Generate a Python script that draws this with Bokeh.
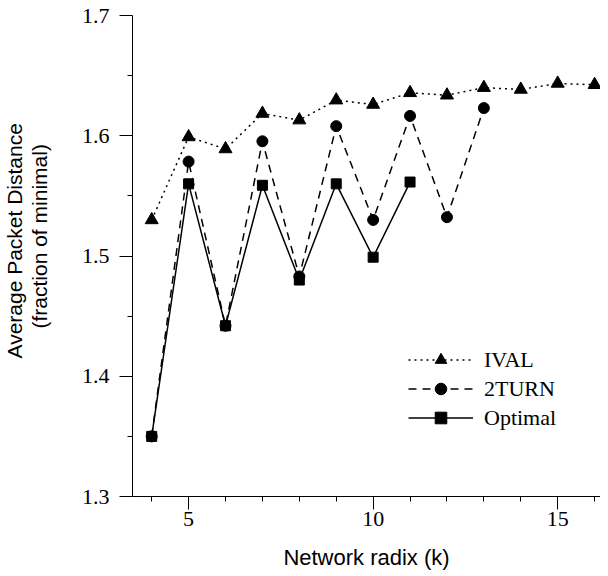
from bokeh.plotting import figure
from bokeh.models import Range1d, FixedTicker, Title, Legend, LegendItem
from bokeh.embed import file_html
from bokeh.resources import INLINE

# ---- data ----
ival_k = [4, 5, 6, 7, 8, 9, 10, 11, 12, 13, 14, 15, 16]
ival = [1.530, 1.599, 1.589, 1.6185, 1.613, 1.6296, 1.626, 1.6357, 1.6337, 1.640, 1.6385, 1.6435, 1.6424]

turn_k = [4, 5, 6, 7, 8, 9, 10, 11, 12, 13]
turn = [1.350, 1.5785, 1.442, 1.5954, 1.483, 1.608, 1.530, 1.6165, 1.5323, 1.623]

opt_k = [4, 5, 6, 7, 8, 9, 10, 11]
opt = [1.350, 1.560, 1.442, 1.5588, 1.480, 1.560, 1.499, 1.5615]

x_major = [5, 10, 15]
x_minor = [4, 5, 6, 7, 8, 9, 10, 11, 12, 13, 14, 15, 16]
y_major = [1.3, 1.4, 1.5, 1.6, 1.7]
y_minor = [1.35, 1.45, 1.55, 1.65]

x_label = "Network radix (k)"
y_label_1 = "Average Packet Distance"
y_label_2 = "(fraction of minimal)"

SERIF = "Liberation Serif"
SANS = "Liberation Sans"

p = figure(frame_width=468, frame_height=481,
           min_border_left=132, min_border_right=0, min_border_top=15, min_border_bottom=72,
           x_range=Range1d(3.48, 16.16), y_range=Range1d(1.3, 1.7),
           output_backend="svg", toolbar_location=None)
p.outline_line_color = None
p.xgrid.visible = False
p.ygrid.visible = False
p.background_fill_color = "white"

p.xaxis.ticker = FixedTicker(ticks=x_major, minor_ticks=x_minor)
p.yaxis.ticker = FixedTicker(ticks=y_major, minor_ticks=y_minor)

for ax in (p.xaxis, p.yaxis):
    ax.axis_line_color = "black"
    ax.axis_line_width = 1
    ax.major_tick_line_color = "black"
    ax.minor_tick_line_color = "black"
    ax.major_tick_in = 0
    ax.minor_tick_in = 0
    ax.major_tick_out = 13
    ax.minor_tick_out = 5
    ax.major_label_text_font = SERIF
    ax.major_label_text_font_size = "22px"
    ax.major_label_text_color = "black"

p.xaxis.major_label_standoff = 2
p.yaxis.major_label_standoff = 10

p.xaxis.axis_label = x_label
p.xaxis.axis_label_text_font = SANS
p.xaxis.axis_label_text_font_size = "22px"
p.xaxis.axis_label_text_font_style = "normal"
p.xaxis.axis_label_text_color = "black"
p.xaxis.axis_label_standoff = 16

# blank y-axis label used only as spacing between tick labels and the two title lines
p.yaxis.axis_label = " "
p.yaxis.axis_label_text_font_size = "21px"
p.yaxis.axis_label_standoff = 2

l1 = p.line(ival_k, ival, line_color="black", line_width=1.5, line_dash="2 4")
s1 = p.scatter(ival_k, ival, marker="triangle", size=13, color="black")
l2 = p.line(turn_k, turn, line_color="black", line_width=1.5, line_dash="8 6")
s2 = p.scatter(turn_k, turn, marker="circle", size=11, color="black")
l3 = p.line(opt_k, opt, line_color="black", line_width=1.5)
s3 = p.scatter(opt_k, opt, marker="square", size=10, color="black")

legend = Legend(items=[LegendItem(label="IVAL", renderers=[l1, s1]),
                       LegendItem(label="2TURN", renderers=[l2, s2]),
                       LegendItem(label="Optimal", renderers=[l3, s3])],
                location=(276, 64))
legend.border_line_color = None
legend.background_fill_alpha = 0
legend.padding = 0
legend.margin = 0
legend.spacing = 0
legend.glyph_width = 65
legend.glyph_height = 29
legend.label_height = 29
legend.label_standoff = 11
legend.label_text_font = SERIF
legend.label_text_font_size = "22px"
legend.label_text_color = "black"
p.add_layout(legend, "center")

t2 = Title(text=y_label_2, align="left", offset=168, standoff=0,
           text_font=SANS, text_font_size="21px", text_font_style="normal", text_color="black")
t1 = Title(text=y_label_1, align="left", offset=138, standoff=0,
           text_font=SANS, text_font_size="21px", text_font_style="normal", text_color="black")
p.add_layout(t2, "left")
p.add_layout(t1, "left")

open("out.html", "w").write(file_html(p, INLINE))
